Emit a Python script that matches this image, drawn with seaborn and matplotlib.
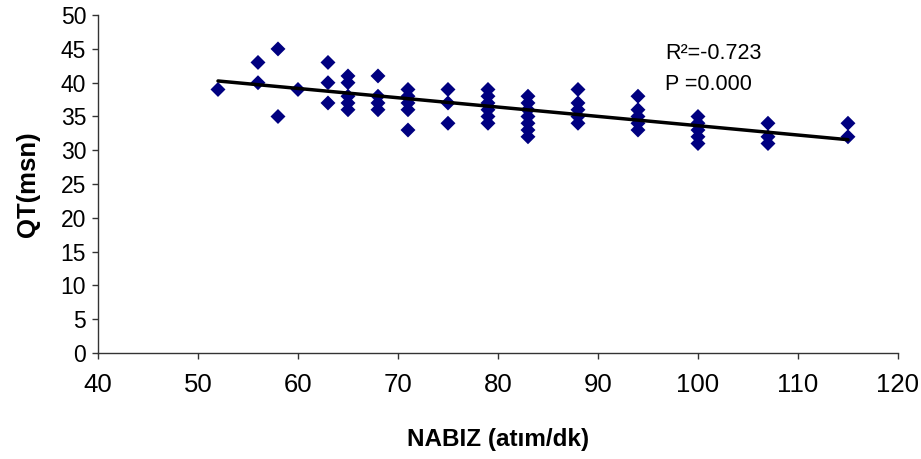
import matplotlib
matplotlib.use("Agg")
import matplotlib.pyplot as plt
import seaborn as sns
import numpy as np
import pandas as pd

# Data
nabiz_groups = [52, 56, 58, 60, 63, 65, 68, 71, 75, 79, 83, 88, 94, 100, 107, 115]
qt_groups = [
    [39],
    [43, 40],
    [45, 35],
    [39],
    [43, 40, 37],
    [41, 40, 38, 37, 36],
    [41, 38, 37, 36],
    [39, 38, 37, 36, 33],
    [39, 37, 34],
    [39, 38, 37, 36, 35, 34],
    [38, 37, 36, 35, 34, 33, 32],
    [39, 37, 36, 35, 34],
    [38, 36, 35, 34, 33],
    [35, 34, 33, 32, 31],
    [34, 32, 31],
    [34, 32],
]
x_ticks = [40, 50, 60, 70, 80, 90, 100, 110, 120]
y_ticks = [0, 5, 10, 15, 20, 25, 30, 35, 40, 45, 50]
x_label = "NABIZ (atım/dk)"
y_label = "QT(msn)"
annot_r = "R²=-0.723"
annot_p = "P =0.000"

nabiz = [x for x, ys in zip(nabiz_groups, qt_groups) for _ in ys]
qt = [y for ys in qt_groups for y in ys]
df = pd.DataFrame({"nabiz": nabiz, "qt": qt})

sns.set_style("white")
plt.rcParams["font.family"] = ["Liberation Sans", "DejaVu Sans"]
plt.rcParams["text.color"] = "black"
plt.rcParams["axes.labelcolor"] = "black"
plt.rcParams["xtick.color"] = "black"
plt.rcParams["ytick.color"] = "black"

fig = plt.figure(figsize=(9.21, 4.59), dpi=100)
ax = fig.add_axes([0.1064, 0.231, 0.8686, 0.736])

sns.scatterplot(data=df, x="nabiz", y="qt", ax=ax, marker="D", s=58,
                color="#000080", edgecolor="none", linewidth=0, zorder=2)
sns.regplot(data=df, x="nabiz", y="qt", ax=ax, scatter=False, ci=None,
            truncate=True, line_kws={"color": "black", "linewidth": 2.5, "zorder": 3})

ax.set_xlim(40, 120)
ax.set_ylim(0, 50)
ax.set_xticks(x_ticks)
ax.set_yticks(y_ticks)
ax.tick_params(axis="both", direction="out", length=4.5, width=1,
               color="#333333", labelcolor="black", left=True, bottom=True)
ax.tick_params(axis="x", labelsize=18.5, pad=10)
ax.tick_params(axis="y", labelsize=16.5, pad=4)

sns.despine(ax=ax)
for sp in ("left", "bottom"):
    ax.spines[sp].set_color("#333333")
    ax.spines[sp].set_linewidth(1)

ax.set_xlabel(x_label, fontsize=17.5, fontweight="bold", labelpad=22, color="black")
ax.set_ylabel(y_label, fontsize=18.5, fontweight="bold", labelpad=15, color="black")

ax.text(96.7, 44.3, annot_r, fontsize=15.5, va="center", ha="left", color="black")
ax.text(96.7, 39.7, annot_p, fontsize=15.5, va="center", ha="left", color="black")

fig.savefig("out.png", dpi=100)
